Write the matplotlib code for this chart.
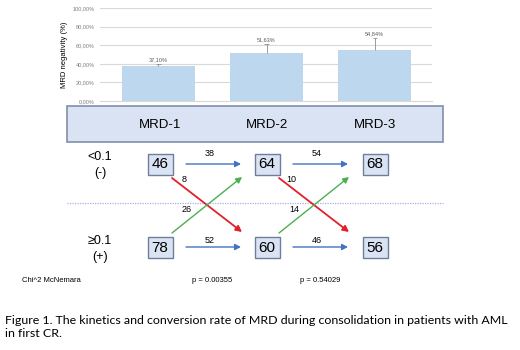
import matplotlib.pyplot as plt
from matplotlib.patches import Rectangle

# Data
categories = ['MRD-1', 'MRD-2', 'MRD-3']
negativity = [37.10, 51.63, 54.84]
neg_err = [3.0, 10.0, 12.5]
yticks = [0, 20, 40, 60, 80, 100]

neg_counts = [46, 64, 68]      # MRD < 0.1 (-)
pos_counts = [78, 60, 56]      # MRD >= 0.1 (+)
stay_neg = [38, 54]
stay_pos = [52, 46]
neg_to_pos = [8, 10]
pos_to_neg = [26, 14]
p_values = ['0.00355', '0.54029']

caption = ('Figure 1. The kinetics and conversion rate of MRD during consolidation in patients with AML\n'
           'in first CR.')

W, H = 520, 350
fig = plt.figure(figsize=(W / 100, H / 100), dpi=100)
plt.rcParams['font.family'] = ['Liberation Sans', 'DejaVu Sans']

# bar chart on top
bx = fig.add_axes([100 / W, 1 - 101 / H, 332 / W, 93 / H])
xs = list(range(len(categories)))
bx.bar(xs, negativity, width=0.68, color='#bdd7ee', zorder=2)
tops = [v + e for v, e in zip(negativity, neg_err)]
bx.vlines(xs, negativity, tops, color='#8c8c8c', linewidth=0.6, zorder=3)
bx.hlines(tops, [x - 0.02 for x in xs], [x + 0.02 for x in xs], color='#8c8c8c',
          linewidth=0.6, zorder=3)
for x, v, t in zip(xs, negativity, tops):
    bx.text(x, t + 2, f'{v:.2f}%'.replace('.', ','), ha='center', va='bottom',
            fontsize=4, color='#595959')
bx.set_xlim(-0.54, 2.53)
bx.set_ylim(0, 100)
bx.set_yticks(yticks)
bx.set_yticklabels([f'{t:.2f}%'.replace('.', ',') for t in yticks], fontsize=4, color='#7f7f7f')
bx.set_xticks([])
bx.grid(axis='y', color='#d9d9d9', linewidth=0.8, zorder=0)
for s in bx.spines.values():
    s.set_visible(False)
bx.spines['bottom'].set_visible(True)
bx.spines['bottom'].set_color('#d9d9d9')
bx.tick_params(axis='y', length=0, pad=4)
bx.set_ylabel('MRD negativity (%)', fontsize=5.5, labelpad=3)

# diagram overlay in pixel coordinates
ax = fig.add_axes([0, 0, 1, 1], zorder=-1)
ax.set_xlim(0, W)
ax.set_ylim(H, 0)
ax.axis('off')

col_x = [160, 267, 375]
y_neg, y_pos = 164, 247

ax.add_patch(Rectangle((67, 106), 376, 36, facecolor='#dae3f3', edgecolor='#7f8fa9', linewidth=1.2))
for cx, c in zip(col_x, categories):
    ax.text(cx, 125, c, ha='center', va='center', fontsize=9.5)

ax.text(100, 157, '<0.1', ha='center', va='center', fontsize=9)
ax.text(100, 173, '(-)', ha='center', va='center', fontsize=9)
ax.text(100, 241, '≥0.1', ha='center', va='center', fontsize=9)
ax.text(100, 257, '(+)', ha='center', va='center', fontsize=9)

ax.plot([67, 443], [203, 203], color='#a9b2e6', linestyle=(0, (1, 1)), linewidth=0.9)

for cx, n, p in zip(col_x, neg_counts, pos_counts):
    for cy, v in ((y_neg, n), (y_pos, p)):
        ax.add_patch(Rectangle((cx - 12.5, cy - 10.5), 25, 21, facecolor='#dae3f3',
                               edgecolor='#6f7f9a', linewidth=1.0))
        ax.text(cx, cy + 0.5, str(v), ha='center', va='center', fontsize=11)

def arrow(x0, y0, x1, y1, color, lw):
    ax.annotate('', xy=(x1, y1), xytext=(x0, y0),
                arrowprops=dict(arrowstyle='-|>,head_length=0.35,head_width=0.18',
                                color=color, lw=lw, shrinkA=0, shrinkB=0))

for i in range(2):
    x0 = col_x[i]
    arrow(x0 + 26, y_neg, x0 + 81, y_neg, '#4472c4', 1.0)
    arrow(x0 + 26, y_pos, x0 + 81, y_pos, '#4472c4', 1.0)
    ax.text(x0 + 50, y_neg - 6, str(stay_neg[i]), ha='center', va='bottom', fontsize=6.5)
    ax.text(x0 + 50, y_pos - 2, str(stay_pos[i]), ha='center', va='bottom', fontsize=6.5)
    arrow(x0 + 12, 178, x0 + 82, 232, '#e0202a', 1.3)
    arrow(x0 + 12, 233, x0 + 82, 177, '#4caf50', 1.0)
    ax.text(x0 + 24, 180, str(neg_to_pos[i]), ha='center', va='center', fontsize=6.5)
    ax.text(x0 + 27, 209, str(pos_to_neg[i]), ha='center', va='center', fontsize=6.5)

ax.text(22, 281, 'Chi^2 McNemara', ha='left', va='center', fontsize=5.5)
for i, p in enumerate(p_values):
    ax.text(212 + 108 * i, 281, f'p = {p}', ha='center', va='center', fontsize=5.5)

ax.text(5, 327, caption, ha='left', va='center', fontsize=8.9, family=['Lato', 'DejaVu Sans'],
        linespacing=1.25)

fig.savefig('out.png', dpi=100)
